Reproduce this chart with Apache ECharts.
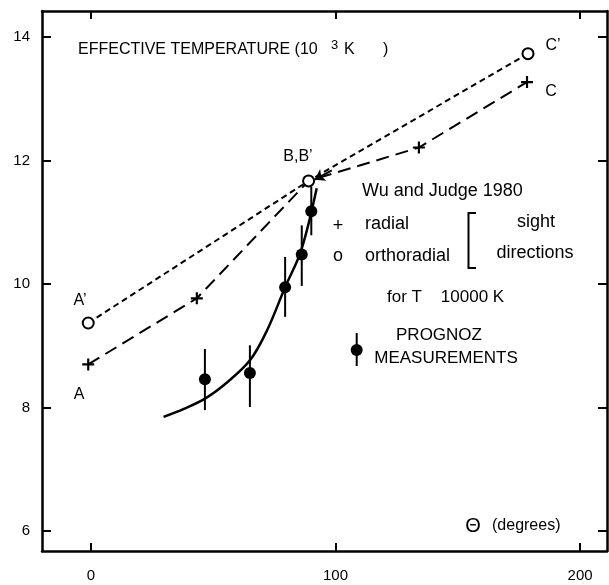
<!DOCTYPE html>
<html>
<head>
<meta charset="utf-8">
<script src="https://cdn.jsdelivr.net/npm/echarts@6/dist/echarts.min.js"></script>
<style>
html,body{margin:0;padding:0;background:#fff;}
#main{width:609px;height:585px;}
</style>
</head>
<body>
<div id="main"></div>
<script>
// ---- data ----
const xTicks = [0, 100, 200];
const yTicks = [6, 8, 10, 12, 14];

// Wu and Judge 1980, radial sight direction (crosses), A -> B -> C
const thetaRadial = [-1.1, 43.3, 89.0, 134.1, 178.3];
const tempRadial  = [8.70, 9.77, 11.67, 12.21, 13.27];
const radialMarker = [true, true, false, true, true];

// Wu and Judge 1980, orthoradial sight direction (circles), A' -> B' -> C'
const thetaOrtho = [-1.1, 89.0, 178.7];
const tempOrtho  = [9.37, 11.67, 13.73];

// PROGNOZ measurements with error bars
const thetaProg = [46.6, 65.0, 79.4, 86.2, 90.1];
const tempProg  = [8.46, 8.56, 9.95, 10.48, 11.18];
const tempLow   = [7.96, 8.01, 9.47, 9.97, 10.79];
const tempHigh  = [8.95, 9.01, 10.44, 10.95, 11.58];

// fitted solid curve
const thetaCurve = [29.7, 38, 46.8, 56, 65.1, 72, 79.4, 86, 92.3];
const tempCurve  = [7.85, 7.98, 8.15, 8.42, 8.77, 9.25, 9.95, 10.55, 11.55];

// arrow into B,B'
const arrowFrom = [98.5, 11.84];
const arrowTo   = [91.4, 11.69];

const FONT = "'Liberation Sans', Arial, Helvetica, sans-serif";
const PLUS = 'path://M4.1,0H5.9V4.1H10V5.9H5.9V10H4.1V5.9H0V4.1H4.1Z';

const chart = echarts.init(document.getElementById('main'), null, {renderer: 'canvas'});

function axisX(pos, showLabel) {
  return {
    type: 'value', min: -20, max: 211, position: pos,
    axisLine: {show: true, onZero: false, lineStyle: {color: '#000', width: 2.5}},
    axisTick: {show: true, inside: true, length: 8, lineStyle: {color: '#000', width: 2}, customValues: xTicks},
    axisLabel: {show: showLabel, customValues: xTicks, color: '#000', fontSize: 15, margin: 17, fontFamily: FONT},
    splitLine: {show: false}
  };
}
function axisY(pos, showLabel) {
  return {
    type: 'value', min: 5.68, max: 14.42, position: pos,
    axisLine: {show: true, onZero: false, lineStyle: {color: '#000', width: 2.5}},
    axisTick: {show: true, inside: true, length: 9, lineStyle: {color: '#000', width: 2}, customValues: yTicks},
    axisLabel: {show: showLabel, customValues: yTicks, color: '#000', fontSize: 15, margin: 12, fontFamily: FONT},
    splitLine: {show: false}
  };
}

function txt(x, y, s, size, align) {
  return {type: 'text', x: x, y: y, style: {text: s, fill: '#000', font: (size || 17) + 'px ' + FONT,
    textAlign: align || 'left', textVerticalAlign: 'middle'}, z: 10};
}

const option = {
  animation: false,
  backgroundColor: '#fff',
  grid: {left: 42, right: 2, top: 11, bottom: 34},
  xAxis: [axisX('bottom', true), axisX('top', false)],
  yAxis: [axisY('left', true), axisY('right', false)],
  series: [
    {
      type: 'line', name: 'curve', smooth: 0.35, symbol: 'none',
      data: thetaCurve.map((t, i) => [t, tempCurve[i]]),
      lineStyle: {color: '#000', width: 2.5}, z: 2
    },
    {
      type: 'line', name: 'radial',
      data: thetaRadial.map((t, i) => radialMarker[i] ? [t, tempRadial[i]] : {value: [t, tempRadial[i]], symbol: 'none'}),
      symbol: PLUS, symbolSize: 12,
      itemStyle: {color: '#000'},
      lineStyle: {color: '#000', width: 2, type: [13, 7]},
      z: 3
    },
    {
      type: 'line', name: 'orthoradial',
      data: thetaOrtho.map((t, i) => [t, tempOrtho[i]]),
      symbol: 'circle', symbolSize: 11,
      itemStyle: {color: '#fff', borderColor: '#000', borderWidth: 2},
      lineStyle: {color: '#000', width: 2, type: [6, 4]},
      markLine: {
        silent: true, symbol: ['none', 'arrow'], symbolSize: 10,
        label: {show: false},
        lineStyle: {color: '#000', width: 2, type: 'solid'},
        emphasis: {disabled: true},
        data: [[{coord: arrowFrom}, {coord: arrowTo}]]
      },
      z: 4
    },
    {
      type: 'custom', name: 'errorbars',
      data: thetaProg.map((t, i) => [t, tempLow[i], tempHigh[i]]),
      renderItem: function (params, api) {
        const p1 = api.coord([api.value(0), api.value(1)]);
        const p2 = api.coord([api.value(0), api.value(2)]);
        return {type: 'line', shape: {x1: p1[0], y1: p1[1], x2: p2[0], y2: p2[1]},
          style: {stroke: '#000', lineWidth: 2}};
      },
      z: 5
    },
    {
      type: 'scatter', name: 'PROGNOZ',
      data: thetaProg.map((t, i) => [t, tempProg[i]]),
      symbol: 'circle', symbolSize: 12,
      itemStyle: {color: '#000', opacity: 1}, z: 6
    }
  ],
  graphic: [
    txt(78, 50, 'EFFECTIVE TEMPERATURE (10', 16),
    txt(331, 45, '3', 13),
    txt(344, 50, 'K', 16),
    txt(383, 50, ')', 16),
    txt(80, 301, 'A\u2019', 16, 'center'),
    txt(79, 395, 'A', 16, 'center'),
    txt(298, 157, 'B,B\u2019', 16, 'center'),
    txt(553, 46, 'C\u2019', 16, 'center'),
    txt(551, 92, 'C', 16, 'center'),
    txt(362, 191, 'Wu and Judge 1980', 18),
    txt(338, 226, '+', 18, 'center'),
    txt(365, 224, 'radial', 18),
    txt(338, 256, 'o', 18, 'center'),
    txt(365, 256, 'orthoradial', 18),
    {type: 'polyline', shape: {points: [[476, 213], [468.5, 213], [468.5, 268], [476, 268]]},
      style: {stroke: '#000', lineWidth: 2, fill: null}, z: 10},
    txt(536, 222, 'sight', 18, 'center'),
    txt(535, 253, 'directions', 18, 'center'),
    txt(387, 297, 'for T    10000 K', 17),
    {type: 'line', shape: {x1: 356.7, y1: 333, x2: 356.7, y2: 366}, style: {stroke: '#000', lineWidth: 2}, z: 10},
    {type: 'circle', shape: {cx: 356.7, cy: 350, r: 6}, style: {fill: '#000'}, z: 10},
    txt(439, 335, 'PROGNOZ', 17, 'center'),
    txt(446, 358, 'MEASUREMENTS', 17, 'center'),
    txt(473, 526, '\u0398', 20, 'center'),
    txt(492, 526, '(degrees)', 16)
  ]
};
chart.setOption(option);
</script>
</body>
</html>
